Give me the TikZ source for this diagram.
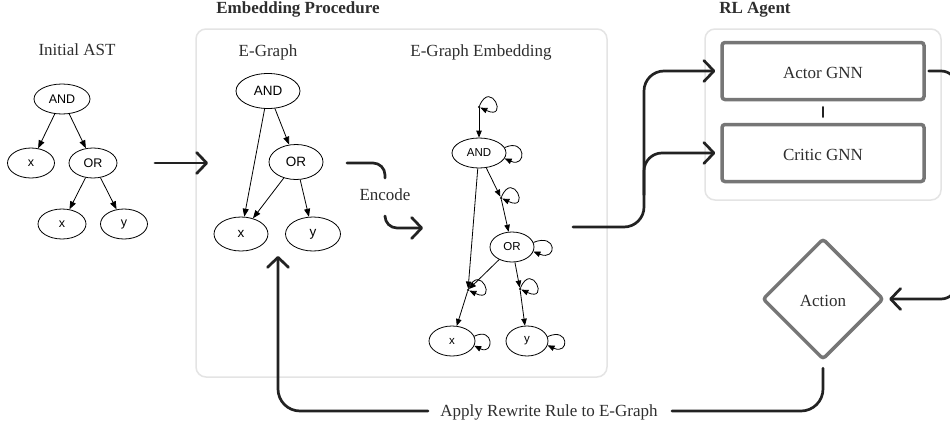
\documentclass[tikz,border=0pt]{standalone}
\usepackage{fontspec}
\setmainfont{Liberation Serif}
\newfontfamily\gvfont{Liberation Sans}
\usetikzlibrary{arrows.meta,shapes.geometric}
\definecolor{conncol}{HTML}{222222}
\definecolor{boxgray}{HTML}{E4E4E4}
\definecolor{agentgray}{HTML}{767676}
\definecolor{txt}{HTML}{2E2E2E}
\begin{document}
\begin{tikzpicture}[x=1pt,y=-1pt,
  lbl/.style={font=\fontsize{17}{20}\selectfont, text=txt, inner sep=0pt, anchor=base},
  ttl/.style={font=\fontsize{17}{20}\selectfont\bfseries, text=txt, inner sep=0pt, anchor=base},
  panel/.style={draw=boxgray, line width=1.5pt, rounded corners=10pt, fill=white},
  agentbox/.style={draw=agentgray, line width=3.5pt, rounded corners=3pt, minimum width=202pt, minimum height=57pt, inner sep=0pt, font=\fontsize{17}{20}\selectfont, text=txt},
  actiond/.style={diamond, draw=agentgray, line width=3.5pt, rounded corners=3pt, minimum width=121pt, minimum height=121pt, inner sep=0pt, font=\fontsize{17}{20}\selectfont, text=txt},
  conn/.style={draw=conncol, line width=2.7pt, line cap=round, line join=round, rounded corners=15pt},
  cto/.style={conn, -{Straight Barb[length=10pt,width=21pt,round]}},
  gv/.style={ellipse, draw, line width=0.8pt, inner sep=0pt},
  gva/.style={line width=0.8pt, -{Triangle[length=8pt,width=6pt]}},
  gvb/.style={line width=0.8pt, -{Triangle[length=7pt,width=5.5pt]}},
  gpt/.style={circle, fill, inner sep=0pt, minimum size=2.5pt},
]
\clip (0,0) rectangle (950,426);
\fill[white] (0,0) rectangle (950,426);

% panels
\draw[panel] (196,29) rectangle (607,377);
\draw[panel] (705,29) rectangle (941,200);

% titles
\node[ttl] (t1) at (298,13) {Embedding Procedure};
\node[ttl] (t2) at (755,13) {RL Agent};
\node[lbl] (l1) at (77,55) {Initial AST};
\node[lbl] (l2) at (268,56) {E-Graph};
\node[lbl] (l3) at (481,56) {E-Graph Embedding};

% Initial AST
\begin{scope}[every node/.append style={font=\gvfont\fontsize{12.5}{14}\selectfont}]
\node[gv, minimum width=56pt, minimum height=30pt] (a_and) at (62,99) {AND};
\node[gv, minimum width=47pt, minimum height=30pt] (a_x1) at (31,163) {x};
\node[gv, minimum width=48pt, minimum height=30pt] (a_or) at (93,163) {OR};
\node[gv, minimum width=48pt, minimum height=30pt] (a_x2) at (62,224) {x};
\node[gv, minimum width=47pt, minimum height=30pt] (a_y) at (124,224) {y};
\end{scope}
\draw[gva] (a_and) -- (a_x1);
\draw[gva] (a_and) -- (a_or);
\draw[gva] (a_or) -- (a_x2);
\draw[gva] (a_or) -- (a_y);

% E-Graph
\begin{scope}[every node/.append style={font=\gvfont\fontsize{13.5}{15}\selectfont}]
\node[gv, minimum width=64pt, minimum height=35pt] (e_and) at (268,91) {AND};
\node[gv, minimum width=54pt, minimum height=35pt] (e_or) at (296,162) {OR};
\node[gv, minimum width=54pt, minimum height=34pt] (e_x) at (241,234) {x};
\node[gv, minimum width=55pt, minimum height=34pt] (e_y) at (313,234) {y};
\end{scope}
\draw[gva] (e_and) -- (e_x);
\draw[gva] (e_and) -- (e_or);
\draw[gva] (e_or) -- (e_x);
\draw[gva] (e_or) -- (e_y);

% E-Graph Embedding
\begin{scope}[every node/.append style={font=\gvfont\fontsize{11.5}{13}\selectfont}]
\node[gv, minimum width=54pt, minimum height=30pt] (m_and) at (479,153) {AND};
\node[gv, minimum width=44pt, minimum height=30pt] (m_or) at (512,247) {OR};
\node[gv, minimum width=46pt, minimum height=30pt] (m_x) at (452,341) {x};
\node[gv, minimum width=42pt, minimum height=30pt] (m_y) at (527,341) {y};
\end{scope}
\node[gpt] (p1) at (479,107) {};
\node[gpt] (p2) at (501,198) {};
\node[gpt] (p3) at (468,290) {};
\node[gpt] (p4) at (520,289) {};
\draw[gvb] (p1) -- (m_and);
\draw[gvb] (m_and) -- (p2);
\draw[gvb] (p2) -- (m_or);
\draw[gvb] (m_and) -- (p3);
\draw[gvb] (m_or) -- (p3);
\draw[gvb] (p3) -- (m_x);
\draw[gvb] (m_or) -- (p4);
\draw[gvb] (p4) -- (m_y);
% self loops
\draw[gvb] (m_and.12) .. controls +(22,-10) and +(22,10) .. (m_and.-12);
\draw[gvb] (m_or.12) .. controls +(24,-10) and +(24,10) .. (m_or.-12);
\draw[gvb] (m_x.12) .. controls +(20,-10) and +(20,10) .. (m_x.-12);
\draw[gvb] (m_y.12) .. controls +(22,-10) and +(22,10) .. (m_y.-12);
\foreach \p in {p1,p2,p3,p4}{
  \draw[gvb] (\p) .. controls +(12,-28) and +(30,14) .. (\p);
}

% connectors
\coordinate (s1) at (155,163);
\coordinate (s2) at (208,163);
\draw[cto] (s1) -- (s2);

\node[lbl] (enc) at (385,200) {Encode};
\coordinate (enc0) at (347,163);
\coordinate (enc1) at (385,178);
\coordinate (enc2) at (385,217);
\coordinate (enc3) at (423,228);
\draw[conn, rounded corners=12pt] (enc0) -| (enc1);
\draw[cto, rounded corners=12pt] (enc2) |- (enc3);

% RL agent
\node[agentbox] (actor) at (823,71) {};
\node[agentbox] (critic) at (823,153) {};
\node[lbl] (actorT) at (823,78) {Actor GNN};
\node[lbl] (criticT) at (823,160) {Critic GNN};
\draw[conn, rounded corners=0pt, shorten <=6pt, shorten >=6pt] (actor.south) -- (critic.north);

\node[actiond] (action) at (823,299) {};
\node[lbl] (actionT) at (823,306) {Action};

\coordinate (emb0) at (573,227);
\coordinate (vtop) at (644,120);
\coordinate (br) at (644,195);
\draw[cto, rounded corners=20pt] (emb0) -| (vtop) |- ([xshift=-5pt]actor.west);
\draw[cto, rounded corners=18pt] (br) |- ([xshift=-5pt]critic.west);

\coordinate (rv) at (957,200);
\draw[cto, rounded corners=16pt] ([xshift=3pt]actor.east) -| (rv) |- ([xshift=4pt]action.east);

\node[lbl] (apply) at (549,416) {Apply Rewrite Rule to E-Graph};
\coordinate (ap1) at (672,411);
\coordinate (ap2) at (428,411);
\coordinate (egin) at (278,256);
\draw[conn, rounded corners=22pt] ([yshift=-7pt]action.south) |- (ap1);
\draw[cto, rounded corners=22pt] (ap2) -| (egin);
\end{tikzpicture}
\end{document}
